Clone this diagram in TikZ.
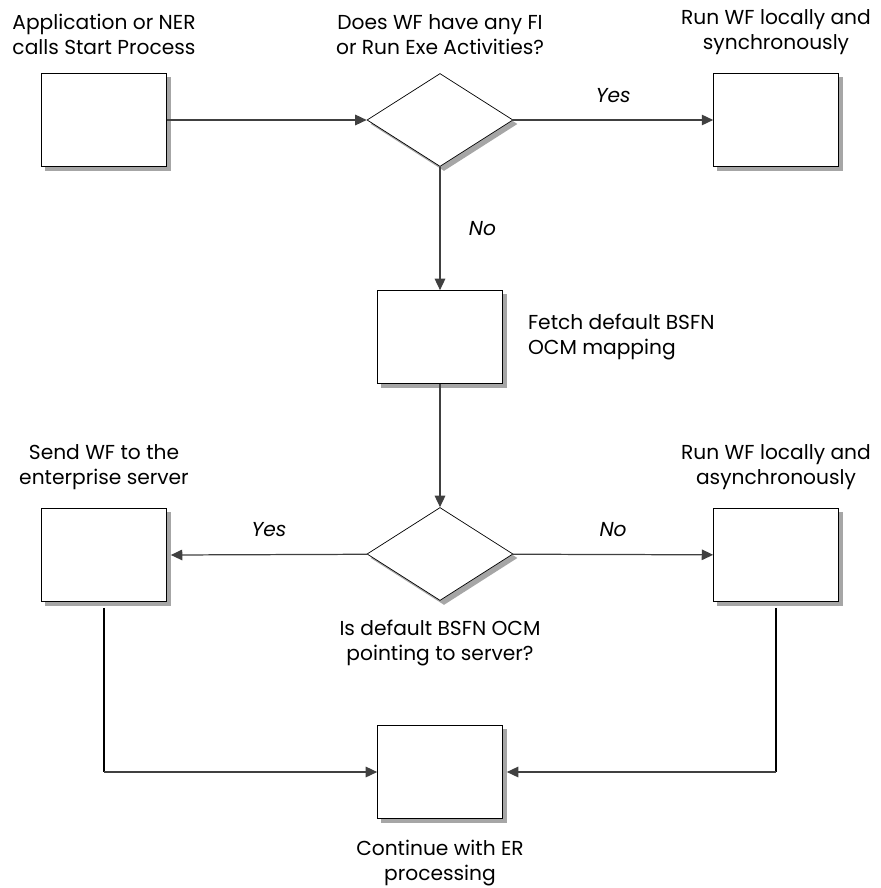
\documentclass[tikz,border=0pt]{standalone}
\usepackage{fontspec}
\setmainfont{Poppins}
\usetikzlibrary{shapes.geometric, arrows.meta, backgrounds}

\tikzset{
  stepbox/.style={draw=black, fill=white, minimum width=2.5cm, minimum height=1.86cm, inner sep=0pt},
  decision/.style={diamond, draw=black, fill=white, minimum width=2.92cm, minimum height=1.86cm, inner sep=0pt},
  flow/.style={draw=black!75, line width=0.7pt, -{Triangle[length=6.5pt, width=6pt]}},
  mergeline/.style={draw=black, line width=1.3pt},
  answer/.style={font=\fontsize{11.5}{13}\selectfont\itshape},
  caption/.style={align=center, label distance=0.24cm}
}

\begin{document}
\begin{tikzpicture}[x=0.02cm, y=-0.02cm, font=\fontsize{11.5}{14.5}\selectfont]
  \useasboundingbox (0,0) rectangle (881,888);

  % top row
  \node[stepbox, label={[caption]above:{Application or NER\\calls Start Process}}] (start) at (104,120) {};
  \node[decision, label={[caption]above:{Does WF have any FI\\or Run Exe Activities?}}] (haswf) at (440,120) {};
  \node[stepbox, label={[caption]above:{Run WF locally and\\synchronously}}] (sync) at (776,120) {};

  % middle
  \node[stepbox, label={[align=left, label distance=0.38cm]right:{Fetch default BSFN\\OCM mapping}}] (fetch) at (440,337) {};
  \node[decision, label={[caption, label distance=0.26cm]below:{Is default BSFN OCM\\pointing to server?}}] (onserver) at (440,554) {};
  \node[stepbox, label={[caption]above:{Send WF to the\\enterprise server}}] (send) at (104,555) {};
  \node[stepbox, label={[caption]above:{Run WF locally and\\asynchronously}}] (async) at (776,555) {};

  % bottom
  \node[stepbox, label={[caption, label distance=0.3cm]below:{Continue with ER\\processing}}] (cont) at (440,772) {};

  % shadows
  \begin{scope}[on background layer, every path/.style={fill=black!35}]
    \foreach \b in {start, sync, fetch, send, async, cont}
      \fill ([shift={(4,4)}]\b.south west) rectangle ([shift={(4,4)}]\b.north east);
    \foreach \d in {haswf, onserver}
      \fill ([shift={(4,4)}]\d.north) -- ([shift={(4,4)}]\d.east) -- ([shift={(4,4)}]\d.south) -- ([shift={(4,4)}]\d.west) -- cycle;
  \end{scope}

  \draw[flow] (start) -- (haswf);
  \draw[flow] (haswf) -- node[answer, above=0.22cm] {Yes} (sync);
  \draw[flow] (haswf) -- node[answer, right=0.45cm] {No} (fetch);
  \draw[flow] (fetch) -- (onserver);
  \draw[flow] (onserver) -- node[answer, above=0.22cm] {Yes} ([xshift=0.08cm]send.east);
  \draw[flow] (onserver) -- node[answer, above=0.22cm] {No} (async);

  \coordinate (leftturn) at (send.south |- cont.west);
  \coordinate (rightturn) at (async.south |- cont.east);
  \draw[mergeline] ([yshift=-0.12cm]send.south) -- (leftturn);
  \draw[mergeline] ([yshift=-0.12cm]async.south) -- (rightturn);
  \draw[flow] (leftturn) -- (cont.west);
  \draw[flow] (rightturn) -- ([xshift=0.08cm]cont.east);
\end{tikzpicture}
\end{document}
